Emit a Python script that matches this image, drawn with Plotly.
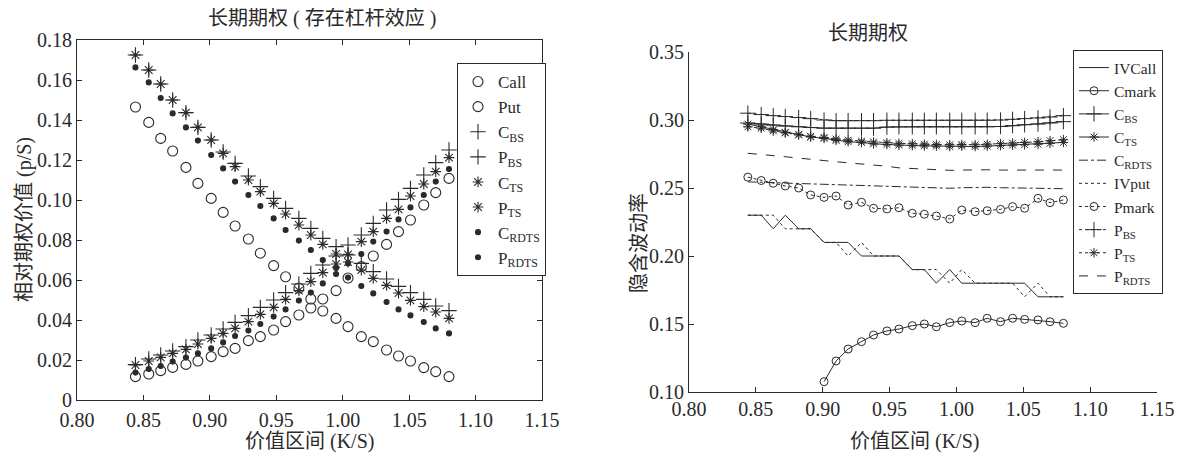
import plotly.graph_objects as go

# ---------------- data ----------------
x_ks = [0.844, 0.854, 0.863, 0.872, 0.882, 0.891, 0.901, 0.910, 0.919, 0.929,
        0.938, 0.948, 0.957, 0.967, 0.976, 0.985, 0.995, 1.004, 1.014, 1.023,
        1.033, 1.042, 1.051, 1.061, 1.070, 1.080]

# left panel: relative option value (p/S)
call_mkt = [0.1465, 0.1388, 0.1308, 0.1245, 0.1163, 0.1083, 0.1008, 0.0938, 0.0870, 0.0805,
            0.0734, 0.0672, 0.0616, 0.0560, 0.0505, 0.0445, 0.0408, 0.0367, 0.0317, 0.0292,
            0.0250, 0.0220, 0.0195, 0.0162, 0.0142, 0.0117]
put_mkt = [0.0117, 0.0130, 0.0147, 0.0163, 0.0178, 0.0195, 0.0217, 0.0242, 0.0258, 0.0297,
           0.0317, 0.0350, 0.0392, 0.0425, 0.0460, 0.0505, 0.0547, 0.0610, 0.0667, 0.0720,
           0.0778, 0.0842, 0.0900, 0.0975, 0.1037, 0.1108]
c_bs = [0.1725, 0.1650, 0.1580, 0.1500, 0.1437, 0.1363, 0.1300, 0.1240, 0.1183, 0.1120,
        0.1067, 0.1008, 0.0958, 0.0908, 0.0858, 0.0808, 0.0767, 0.0725, 0.0683, 0.0642,
        0.0605, 0.0568, 0.0537, 0.0503, 0.0470, 0.0447]
p_bs = [0.0177, 0.0205, 0.0225, 0.0245, 0.0267, 0.0300, 0.0325, 0.0355, 0.0388, 0.0422,
        0.0463, 0.0500, 0.0537, 0.0580, 0.0633, 0.0675, 0.0720, 0.0775, 0.0825, 0.0883,
        0.0950, 0.1003, 0.1058, 0.1125, 0.1187, 0.1250]
c_ts = [0.1725, 0.1650, 0.1580, 0.1500, 0.1437, 0.1363, 0.1300, 0.1233, 0.1167, 0.1100,
        0.1042, 0.0983, 0.0930, 0.0875, 0.0825, 0.0778, 0.0730, 0.0690, 0.0650, 0.0608,
        0.0573, 0.0535, 0.0498, 0.0467, 0.0440, 0.0408]
p_ts = [0.0175, 0.0195, 0.0213, 0.0233, 0.0253, 0.0280, 0.0308, 0.0333, 0.0358, 0.0392,
        0.0428, 0.0463, 0.0503, 0.0547, 0.0592, 0.0637, 0.0680, 0.0728, 0.0792, 0.0842,
        0.0908, 0.0953, 0.1020, 0.1080, 0.1142, 0.1212]
c_rdts = [0.1663, 0.1588, 0.1510, 0.1433, 0.1363, 0.1297, 0.1225, 0.1158, 0.1092, 0.1025,
          0.0970, 0.0908, 0.0850, 0.0797, 0.0750, 0.0700, 0.0660, 0.0612, 0.0570, 0.0533,
          0.0490, 0.0453, 0.0423, 0.0390, 0.0358, 0.0333]
p_rdts = [0.0137, 0.0155, 0.0170, 0.0192, 0.0212, 0.0233, 0.0258, 0.0288, 0.0320, 0.0347,
          0.0380, 0.0417, 0.0453, 0.0497, 0.0537, 0.0583, 0.0630, 0.0683, 0.0730, 0.0792,
          0.0842, 0.0903, 0.0963, 0.1025, 0.1092, 0.1155]

# right panel: implied volatility
iv_call = [0.23, 0.23, 0.22, 0.23, 0.22, 0.22, 0.21, 0.21, 0.21, 0.20,
           0.20, 0.20, 0.20, 0.19, 0.19, 0.18, 0.19, 0.18, 0.18, 0.18,
           0.18, 0.18, 0.18, 0.17, 0.17, 0.17]
iv_put = [0.23, 0.23, 0.23, 0.22, 0.22, 0.22, 0.21, 0.21, 0.20, 0.21,
          0.20, 0.20, 0.20, 0.19, 0.19, 0.19, 0.18, 0.19, 0.18, 0.18,
          0.18, 0.18, 0.17, 0.18, 0.17, 0.17]
x_cmark = [0.901, 0.910, 0.919, 0.929, 0.938, 0.948, 0.957, 0.967, 0.976, 0.985,
           0.995, 1.004, 1.014, 1.023, 1.033, 1.042, 1.051, 1.061, 1.070, 1.080]
cmark = [0.1076, 0.1228, 0.1316, 0.1370, 0.1419, 0.1449, 0.1463, 0.1488, 0.1500, 0.1480,
         0.1510, 0.1522, 0.1510, 0.1542, 0.1517, 0.1542, 0.1534, 0.1530, 0.1517, 0.1505]
pmark = [0.2580, 0.2555, 0.2535, 0.2515, 0.2500, 0.2449, 0.2431, 0.2441, 0.2375, 0.2395,
         0.2351, 0.2346, 0.2355, 0.2314, 0.2307, 0.2294, 0.2272, 0.2338, 0.2326, 0.2333,
         0.2343, 0.2363, 0.2351, 0.2424, 0.2392, 0.2412]
iv_c_bs = [0.2978, 0.2970, 0.2962, 0.2955, 0.2950, 0.2945, 0.2940, 0.2940, 0.2940, 0.2940,
           0.2940, 0.2948, 0.2950, 0.2950, 0.2950, 0.2950, 0.2950, 0.2950, 0.2950, 0.2950,
           0.2952, 0.2958, 0.2965, 0.2970, 0.2978, 0.2988]
iv_p_bs = [0.3050, 0.3040, 0.3032, 0.3025, 0.3018, 0.3010, 0.3000, 0.2995, 0.2995, 0.2995,
           0.2995, 0.2998, 0.2998, 0.2998, 0.2998, 0.2998, 0.2998, 0.2998, 0.2998, 0.2998,
           0.3000, 0.3005, 0.3010, 0.3015, 0.3022, 0.3032]
iv_c_ts = [0.2970, 0.2950, 0.2930, 0.2910, 0.2895, 0.2875, 0.2865, 0.2850, 0.2840, 0.2835,
           0.2825, 0.2820, 0.2815, 0.2812, 0.2810, 0.2808, 0.2805, 0.2808, 0.2805, 0.2808,
           0.2812, 0.2815, 0.2818, 0.2822, 0.2828, 0.2835]
iv_p_ts = [0.2950, 0.2940, 0.2920, 0.2905, 0.2890, 0.2880, 0.2872, 0.2860, 0.2852, 0.2845,
           0.2838, 0.2833, 0.2828, 0.2825, 0.2822, 0.2820, 0.2818, 0.2820, 0.2818, 0.2822,
           0.2826, 0.2830, 0.2835, 0.2840, 0.2848, 0.2855]
iv_c_rdts = [0.2545, 0.2542, 0.2538, 0.2535, 0.2532, 0.2530, 0.2528, 0.2525, 0.2522, 0.2518,
             0.2515, 0.2512, 0.2508, 0.2505, 0.2502, 0.2500, 0.2498, 0.2502, 0.2505, 0.2505,
             0.2502, 0.2502, 0.2500, 0.2498, 0.2496, 0.2495]
iv_p_rdts = [0.2755, 0.2748, 0.2740, 0.2730, 0.2720, 0.2710, 0.2700, 0.2693, 0.2685, 0.2677,
             0.2669, 0.2660, 0.2648, 0.2642, 0.2638, 0.2634, 0.2630, 0.2632, 0.2634, 0.2634,
             0.2632, 0.2632, 0.2632, 0.2632, 0.2632, 0.2632]

x_ticks = [0.80, 0.85, 0.90, 0.95, 1.00, 1.05, 1.10, 1.15]
x_ticktext = ["0.80", "0.85", "0.90", "0.95", "1.00", "1.05", "1.10", "1.15"]
y1_ticks = [0, 0.02, 0.04, 0.06, 0.08, 0.10, 0.12, 0.14, 0.16, 0.18]
y1_ticktext = ["0", "0.02", "0.04", "0.06", "0.08", "0.10", "0.12", "0.14", "0.16", "0.18"]
y2_ticks = [0.10, 0.15, 0.20, 0.25, 0.30, 0.35]
y2_ticktext = ["0.10", "0.15", "0.20", "0.25", "0.30", "0.35"]

# ---------------- style ----------------
# page body has an 8px margin, so the figure is drawn 8px in from the window corner
OFF = 8
W, H = 1183 - 2 * OFF, 464 - 2 * OFF
INK = "#2a2a2a"
SERIF = "Liberation Serif, Times New Roman, Noto Sans CJK SC"
CJK = "Liberation Serif, Noto Sans CJK SC"

def px(v):
    return (v - OFF) / W

def py(v):
    return 1 - (v - OFF) / H

fig = go.Figure()

def add_left(name, y, symbol, size):
    fig.add_trace(go.Scatter(
        x=x_ks, y=y, name=name, mode="markers", xaxis="x", yaxis="y", legend="legend",
        marker=dict(symbol=symbol, size=size, color=INK,
                    line=dict(width=1.1, color=INK)),
    ))

add_left("Call", call_mkt, "circle-open", 10)
add_left("Put", put_mkt, "circle-open", 10)
add_left("C<sub>BS</sub>", c_bs, "cross-thin-open", 11)
add_left("P<sub>BS</sub>", p_bs, "cross-thin-open", 11)
add_left("C<sub>TS</sub>", c_ts, "asterisk-open", 9)
add_left("P<sub>TS</sub>", p_ts, "asterisk-open", 9)
add_left("C<sub>RDTS</sub>", c_rdts, "circle", 5)
add_left("P<sub>RDTS</sub>", p_rdts, "circle", 5)

def add_right(name, xs, y, dash, symbol=None, size=8):
    mode = "lines+markers" if symbol else "lines"
    kw = dict(x=xs, y=y, name=name, mode=mode, xaxis="x2", yaxis="y2", legend="legend2",
              line=dict(color=INK, width=1, dash=dash))
    if symbol:
        kw["marker"] = dict(symbol=symbol, size=size, color=INK,
                            line=dict(width=1, color=INK))
    fig.add_trace(go.Scatter(**kw))

add_right("IVCall", x_ks, iv_call, "solid")
add_right("Cmark", x_cmark, cmark, "solid", "circle-open", 8)
add_right("C<sub>BS</sub>", x_ks, iv_c_bs, "solid", "cross-thin-open", 11)
add_right("C<sub>TS</sub>", x_ks, iv_c_ts, "solid", "asterisk-open", 8)
add_right("C<sub>RDTS</sub>", x_ks, iv_c_rdts, "dashdot")
add_right("IVput", x_ks, iv_put, "dot")
add_right("Pmark", x_ks, pmark, "dot", "circle-open", 8)
add_right("P<sub>BS</sub>", x_ks, iv_p_bs, "dot", "cross-thin-open", 11)
add_right("P<sub>TS</sub>", x_ks, iv_p_ts, "dot", "asterisk-open", 8)
add_right("P<sub>RDTS</sub>", x_ks, iv_p_rdts, "dash")

tickfont = dict(family=SERIF, size=20, color=INK)
axis_common = dict(showline=True, linecolor=INK, linewidth=1, showgrid=False, zeroline=False,
                   ticks="inside", ticklen=5, tickcolor=INK, tickfont=tickfont)

fig.update_layout(
    width=W, height=H, autosize=False,
    margin=dict(l=0, r=0, t=0, b=0, autoexpand=False),
    paper_bgcolor="white", plot_bgcolor="white",
    showlegend=True,
    xaxis=dict(domain=[px(77), px(542)], range=[0.80, 1.15], anchor="y",
               tickvals=x_ticks, ticktext=x_ticktext, mirror="ticks",
               ticklabelstandoff=2, **axis_common),
    yaxis=dict(domain=[py(400), py(40)], range=[0, 0.18], anchor="x",
               tickvals=y1_ticks, ticktext=y1_ticktext, mirror="ticks", **axis_common),
    xaxis2=dict(domain=[px(689), px(1157)], range=[0.80, 1.15], anchor="y2",
                tickvals=x_ticks, ticktext=x_ticktext, ticklabelstandoff=-1, **axis_common),
    yaxis2=dict(domain=[py(392), py(52)], range=[0.10, 0.35], anchor="x2",
                tickvals=y2_ticks, ticktext=y2_ticktext, **axis_common),
    legend=dict(x=px(457), y=py(63), xanchor="left", yanchor="top",
                bordercolor=INK, borderwidth=1, bgcolor="white",
                font=dict(family=SERIF, size=17, color=INK), itemwidth=30),
    legend2=dict(x=px(1073), y=py(50), xanchor="left", yanchor="top",
                 bordercolor=INK, borderwidth=1, bgcolor="white",
                 font=dict(family=SERIF, size=15.5, color=INK), itemwidth=30),
)

ann_font = dict(family=CJK, size=20, color=INK)
annotations = [
    dict(text="长期期权 ( 存在杠杆效应 )", x=px(322), y=py(19)),
    dict(text="长期期权", x=px(868), y=py(33)),
    dict(text="价值区间 (K/S)", x=px(309), y=py(441)),
    dict(text="价值区间 (K/S)", x=px(914), y=py(441)),
    dict(text="相对期权价值 (p/S)", x=px(24), y=py(220), textangle=-90),
    dict(text="隐含波动率", x=px(639), y=py(243), textangle=-90),
]
for a in annotations:
    a.update(xref="paper", yref="paper", showarrow=False, font=ann_font,
             xanchor="center", yanchor="middle")
fig.update_layout(annotations=annotations)

fig.write_html("out.html")
